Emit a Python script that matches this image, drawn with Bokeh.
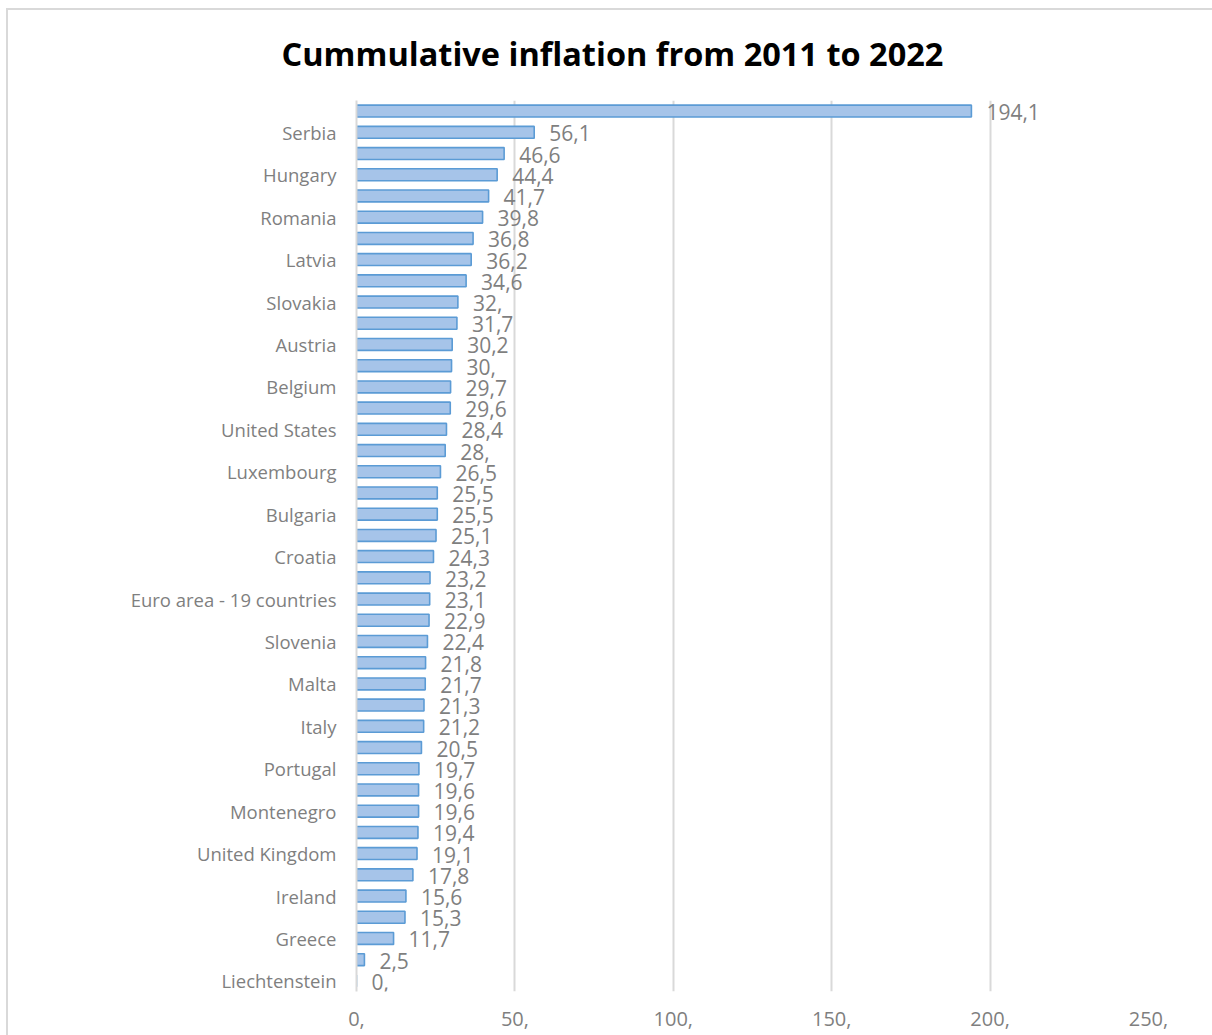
from bokeh.plotting import figure
from bokeh.models import Range1d, FixedTicker, ColumnDataSource
from bokeh.embed import file_html
from bokeh.resources import INLINE
from bokeh.core.properties import value

# Categories from top to bottom (only every other label is shown in the chart)
categories = ["", "Serbia", "", "Hungary", "", "Romania", "", "Latvia", "", "Slovakia",
              "", "Austria", "", "Belgium", "", "United States", "", "Luxembourg", "", "Bulgaria",
              "", "Croatia", "", "Euro area - 19 countries", "", "Slovenia", "", "Malta", "", "Italy",
              "", "Portugal", "", "Montenegro", "", "United Kingdom", "", "Ireland", "", "Greece",
              "", "Liechtenstein"]
values = [194.1, 56.1, 46.6, 44.4, 41.7, 39.8, 36.8, 36.2, 34.6, 32.0,
          31.7, 30.2, 30.0, 29.7, 29.6, 28.4, 28.0, 26.5, 25.5, 25.5,
          25.1, 24.3, 23.2, 23.1, 22.9, 22.4, 21.8, 21.7, 21.3, 21.2,
          20.5, 19.7, 19.6, 19.6, 19.4, 19.1, 17.8, 15.6, 15.3, 11.7,
          2.5, 0.0]
x_ticks = [0, 50, 100, 150, 200, 250]
x_tick_labels = ["0,", "50,", "100,", "150,", "200,", "250,"]


def fmt(v):
    s = f"{v:.1f}".replace(".", ",")
    if s.endswith(",0"):
        s = s[:-1]
    return s


n = len(categories)
pos = list(range(n))
src = ColumnDataSource(dict(y=pos, v=values, lab=[fmt(v) for v in values]))

GREY = "#7f7f7f"
FONT = "Open Sans"

p = figure(width=1212, height=1035, output_backend="svg", toolbar_location=None,
           x_range=Range1d(0, 250), y_range=Range1d(n - 0.5, -0.5),
           min_border_left=356, min_border_right=64, min_border_top=100, min_border_bottom=44,
           title="Cummulative inflation from 2011 to 2022")
# outer chart border (top and left edges only, as in the reference)
p.styles = {"background-color": "white",
            "box-shadow": ("inset 0 8px 0 0 #ffffff, inset 6px 0 0 0 #ffffff, "
                           "inset 0 10px 0 0 #d9d9d9, inset 8px 0 0 0 #d9d9d9")}

p.title.align = "left"
p.title.text_font = FONT
p.title.text_font_size = "32.5px"
p.title.text_font_style = "bold"
p.title.text_color = "#000000"
p.title.standoff = 50
p.title.offset = -75

p.outline_line_color = None
p.background_fill_color = "white"
p.border_fill_color = None

p.hbar(y="y", left=0, right="v", height=0.56, source=src,
       fill_color="#a6c4e9", line_color="#5b9bd5", line_width=1.6)

p.text(x="v", y="y", text="lab", source=src, x_offset=15, y_offset=1,
       text_font=value(FONT), text_font_size="21px", text_color=GREY,
       text_baseline="middle", text_align="left")

# grid
p.ygrid.grid_line_color = None
p.xgrid.ticker = FixedTicker(ticks=x_ticks)
p.xgrid.grid_line_color = "#d9d9d9"
p.xgrid.grid_line_width = 2

# x axis
p.xaxis.ticker = FixedTicker(ticks=x_ticks)
p.xaxis.major_label_overrides = {t: l for t, l in zip(x_ticks, x_tick_labels)}
p.xaxis.axis_line_color = None
p.xaxis.major_tick_line_color = None
p.xaxis.minor_tick_line_color = None
p.xaxis.major_label_text_font = FONT
p.xaxis.major_label_text_font_size = "20px"
p.xaxis.major_label_text_color = GREY
p.xaxis.major_label_standoff = 14

# y axis
p.yaxis.ticker = FixedTicker(ticks=pos)
p.yaxis.major_label_overrides = {i: c for i, c in zip(pos, categories)}
p.yaxis.axis_line_color = "#d9d9d9"
p.yaxis.axis_line_width = 2
p.yaxis.major_tick_line_color = None
p.yaxis.minor_tick_line_color = None
p.yaxis.major_label_text_font = FONT
p.yaxis.major_label_text_font_size = "18.5px"
p.yaxis.major_label_text_color = GREY
p.yaxis.major_label_standoff = 14

open("out.html", "w").write(file_html(p, INLINE))
